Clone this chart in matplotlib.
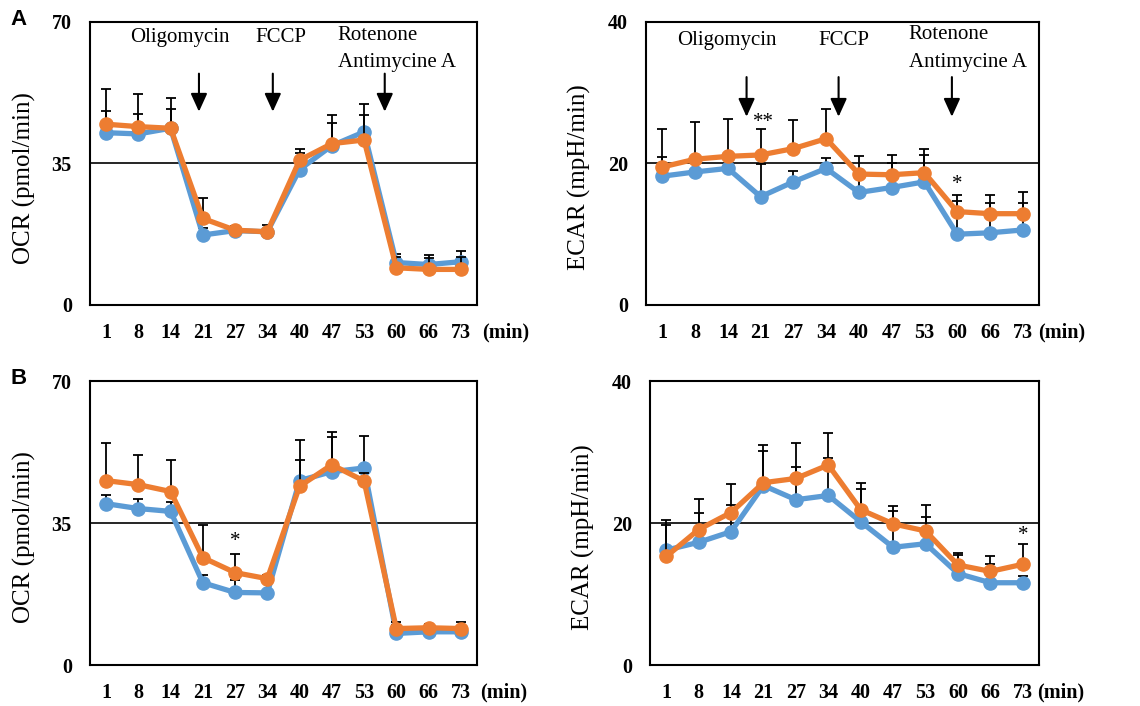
import matplotlib.pyplot as plt
import numpy as np

plt.rcParams['font.family'] = ['Liberation Serif', 'DejaVu Serif']

# Tiempos de medida (min)
minutos = ['1', '8', '14', '21', '27', '34', '40', '47', '53', '60', '66', '73']

# Panel A - OCR
ocr_a_azul = [42.6, 42.3, 43.7, 17.3, 18.4, 18.1, 33.5, 39.4, 42.8, 10.5, 10.0, 10.7]
ocr_a_naranja = [44.7, 44.1, 43.7, 21.4, 18.5, 18.1, 35.8, 39.9, 40.8, 9.2, 8.8, 8.8]
ocr_a_err_azul = [5.4, 4.9, 4.7, 1.8, 0.5, 0.6, 4.0, 5.7, 6.8, 2.1, 2.3, 2.7]
ocr_a_err_naranja = [8.6, 8.1, 7.6, 5.0, 1.0, 1.8, 2.7, 7.2, 6.3, 2.7, 2.9, 3.1]

# Panel A - ECAR
ecar_a_azul = [18.2, 18.8, 19.3, 15.3, 17.4, 19.3, 15.9, 16.6, 17.4, 10.0, 10.2, 10.6]
ecar_a_naranja = [19.5, 20.6, 21.0, 21.2, 22.1, 23.5, 18.5, 18.4, 18.7, 13.2, 12.9, 12.9]
ecar_a_err_azul = [2.7, 1.4, 1.2, 4.6, 1.5, 1.5, 2.0, 3.5, 3.8, 5.6, 5.4, 5.3]
ecar_a_err_naranja = [5.3, 5.2, 5.3, 3.6, 4.1, 4.2, 2.5, 2.8, 3.4, 1.5, 1.5, 1.5]

# Panel B - OCR
ocr_b_azul = [39.8, 38.6, 37.9, 20.3, 17.9, 17.8, 45.5, 47.7, 48.6, 7.8, 8.2, 8.2]
ocr_b_naranja = [45.5, 44.5, 42.8, 26.5, 22.8, 21.3, 44.1, 49.4, 45.4, 9.0, 9.2, 9.0]
ocr_b_err_azul = [2.2, 2.4, 2.3, 2.0, 3.0, 4.5, 9.9, 8.5, 7.8, 2.0, 1.0, 1.5]
ocr_b_err_naranja = [9.3, 7.4, 7.7, 8.0, 4.7, 1.0, 6.4, 8.0, 2.0, 1.7, 1.0, 1.7]

# Panel B - ECAR
ecar_b_azul = [16.2, 17.3, 18.8, 25.3, 23.3, 23.9, 20.2, 16.6, 17.1, 12.9, 11.6, 11.6]
ecar_b_naranja = [15.3, 19.1, 21.5, 25.7, 26.3, 28.2, 21.9, 19.9, 18.9, 14.1, 13.2, 14.2]
ecar_b_err_azul = [3.5, 4.1, 3.8, 4.8, 4.6, 5.3, 4.6, 5.1, 3.7, 2.9, 2.6, 1.0]
ecar_b_err_naranja = [5.1, 4.3, 4.0, 5.3, 5.0, 4.5, 3.7, 2.5, 3.7, 1.4, 2.1, 2.8]

azul = '#5B9BD5'
naranja = '#ED7D31'


def graficar_panel(ax, serie_azul, serie_naranja, err_azul, err_naranja, ymax, etiqueta, pos_min):
    x = np.arange(len(minutos))
    ceros = np.zeros(len(minutos))
    ax.errorbar(x, serie_azul, yerr=[ceros, err_azul], fmt='none', ecolor='black',
                elinewidth=1.3, capsize=3.5, capthick=1.3, zorder=2)
    ax.plot(x, serie_azul, color=azul, lw=3.8, marker='o', markersize=9.5, zorder=3)
    ax.errorbar(x, serie_naranja, yerr=[ceros, err_naranja], fmt='none', ecolor='black',
                elinewidth=1.3, capsize=3.5, capthick=1.3, zorder=4)
    ax.plot(x, serie_naranja, color=naranja, lw=3.8, marker='o', markersize=9.5, zorder=5)

    ax.set_xlim(-0.5, len(minutos) - 0.5)
    ax.set_ylim(0, ymax)
    ax.set_xticks(x)
    ax.set_xticklabels(minutos, fontweight='bold', fontsize=14.5)
    ax.set_yticks([0, ymax / 2, ymax])
    ax.set_yticklabels([0, int(ymax / 2), ymax], fontweight='bold', fontsize=14.5)
    ax.tick_params(axis='x', length=0, pad=13)
    ax.tick_params(axis='y', length=0, pad=13)
    ax.axhline(ymax / 2, color='black', lw=1.2, zorder=1)
    for lado in ax.spines.values():
        lado.set_linewidth(1.5)
    ax.text(-0.17, 0.45, etiqueta, rotation=90, ha='center', va='center',
            fontsize=18, transform=ax.transAxes)
    ax.text(pos_min, -0.097, '(min)', fontweight='bold', fontsize=14.5,
            ha='left', va='center', transform=ax.transAxes)


def flecha(ax, x, y_ini, y_fin):
    ax.annotate('', xy=(x, y_fin), xytext=(x, y_ini),
                arrowprops=dict(arrowstyle='-|>,head_length=0.55,head_width=0.25',
                                color='black', lw=1.5, mutation_scale=20,
                                shrinkA=0, shrinkB=0))


fig = plt.figure(figsize=(11.4, 7.06), dpi=100)

ax1 = fig.add_axes([0.0789, 0.568, 0.3395, 0.401])
ax2 = fig.add_axes([0.5667, 0.568, 0.3447, 0.401])
ax3 = fig.add_axes([0.0789, 0.058, 0.3395, 0.402])
ax4 = fig.add_axes([0.5702, 0.058, 0.3412, 0.402])

graficar_panel(ax1, ocr_a_azul, ocr_a_naranja, ocr_a_err_azul, ocr_a_err_naranja,
               70, 'OCR (pmol/min)', 1.013)
graficar_panel(ax2, ecar_a_azul, ecar_a_naranja, ecar_a_err_azul, ecar_a_err_naranja,
               40, 'ECAR (mpH/min)', 0.998)
graficar_panel(ax3, ocr_b_azul, ocr_b_naranja, ocr_b_err_azul, ocr_b_err_naranja,
               70, 'OCR (pmol/min)', 1.008)
graficar_panel(ax4, ecar_b_azul, ecar_b_naranja, ecar_b_err_azul, ecar_b_err_naranja,
               40, 'ECAR (mpH/min)', 0.995)

# Compuestos inyectados - panel A OCR
ax1.text(2.29, 66.1, 'Oligomycin', fontsize=15, ha='center', va='center')
ax1.text(5.42, 66.1, 'FCCP', fontsize=15, ha='center', va='center')
ax1.text(7.18, 66.7, 'Rotenone', fontsize=15, ha='left', va='center')
ax1.text(7.18, 60.0, 'Antimycine A', fontsize=15, ha='left', va='center')
flecha(ax1, 2.88, 57.2, 47.8)
flecha(ax1, 5.17, 57.2, 47.8)
flecha(ax1, 8.64, 57.2, 47.8)

# Compuestos inyectados - panel A ECAR
ax2.text(1.96, 37.4, 'Oligomycin', fontsize=15, ha='center', va='center')
ax2.text(5.53, 37.3, 'FCCP', fontsize=15, ha='center', va='center')
ax2.text(7.52, 38.2, 'Rotenone', fontsize=15, ha='left', va='center')
ax2.text(7.52, 34.3, 'Antimycine A', fontsize=15, ha='left', va='center')
flecha(ax2, 2.57, 32.2, 26.6)
flecha(ax2, 5.38, 32.2, 26.6)
flecha(ax2, 8.84, 32.2, 26.6)

# Significancia
ax2.text(3.1, 25.8, '**', fontsize=15, ha='center', va='center')
ax2.text(9.0, 17.0, '*', fontsize=15, ha='center', va='center')
ax3.text(4.0, 30.5, '*', fontsize=15, ha='center', va='center')
ax4.text(11.0, 18.2, '*', fontsize=15, ha='center', va='center')

# Letras de panel
fig.text(0.009, 0.972, 'A', fontsize=16, fontweight='bold', family='Liberation Sans', va='center')
fig.text(0.009, 0.464, 'B', fontsize=16, fontweight='bold', family='Liberation Sans', va='center')

plt.savefig('out.png', dpi=100)
plt.close()
